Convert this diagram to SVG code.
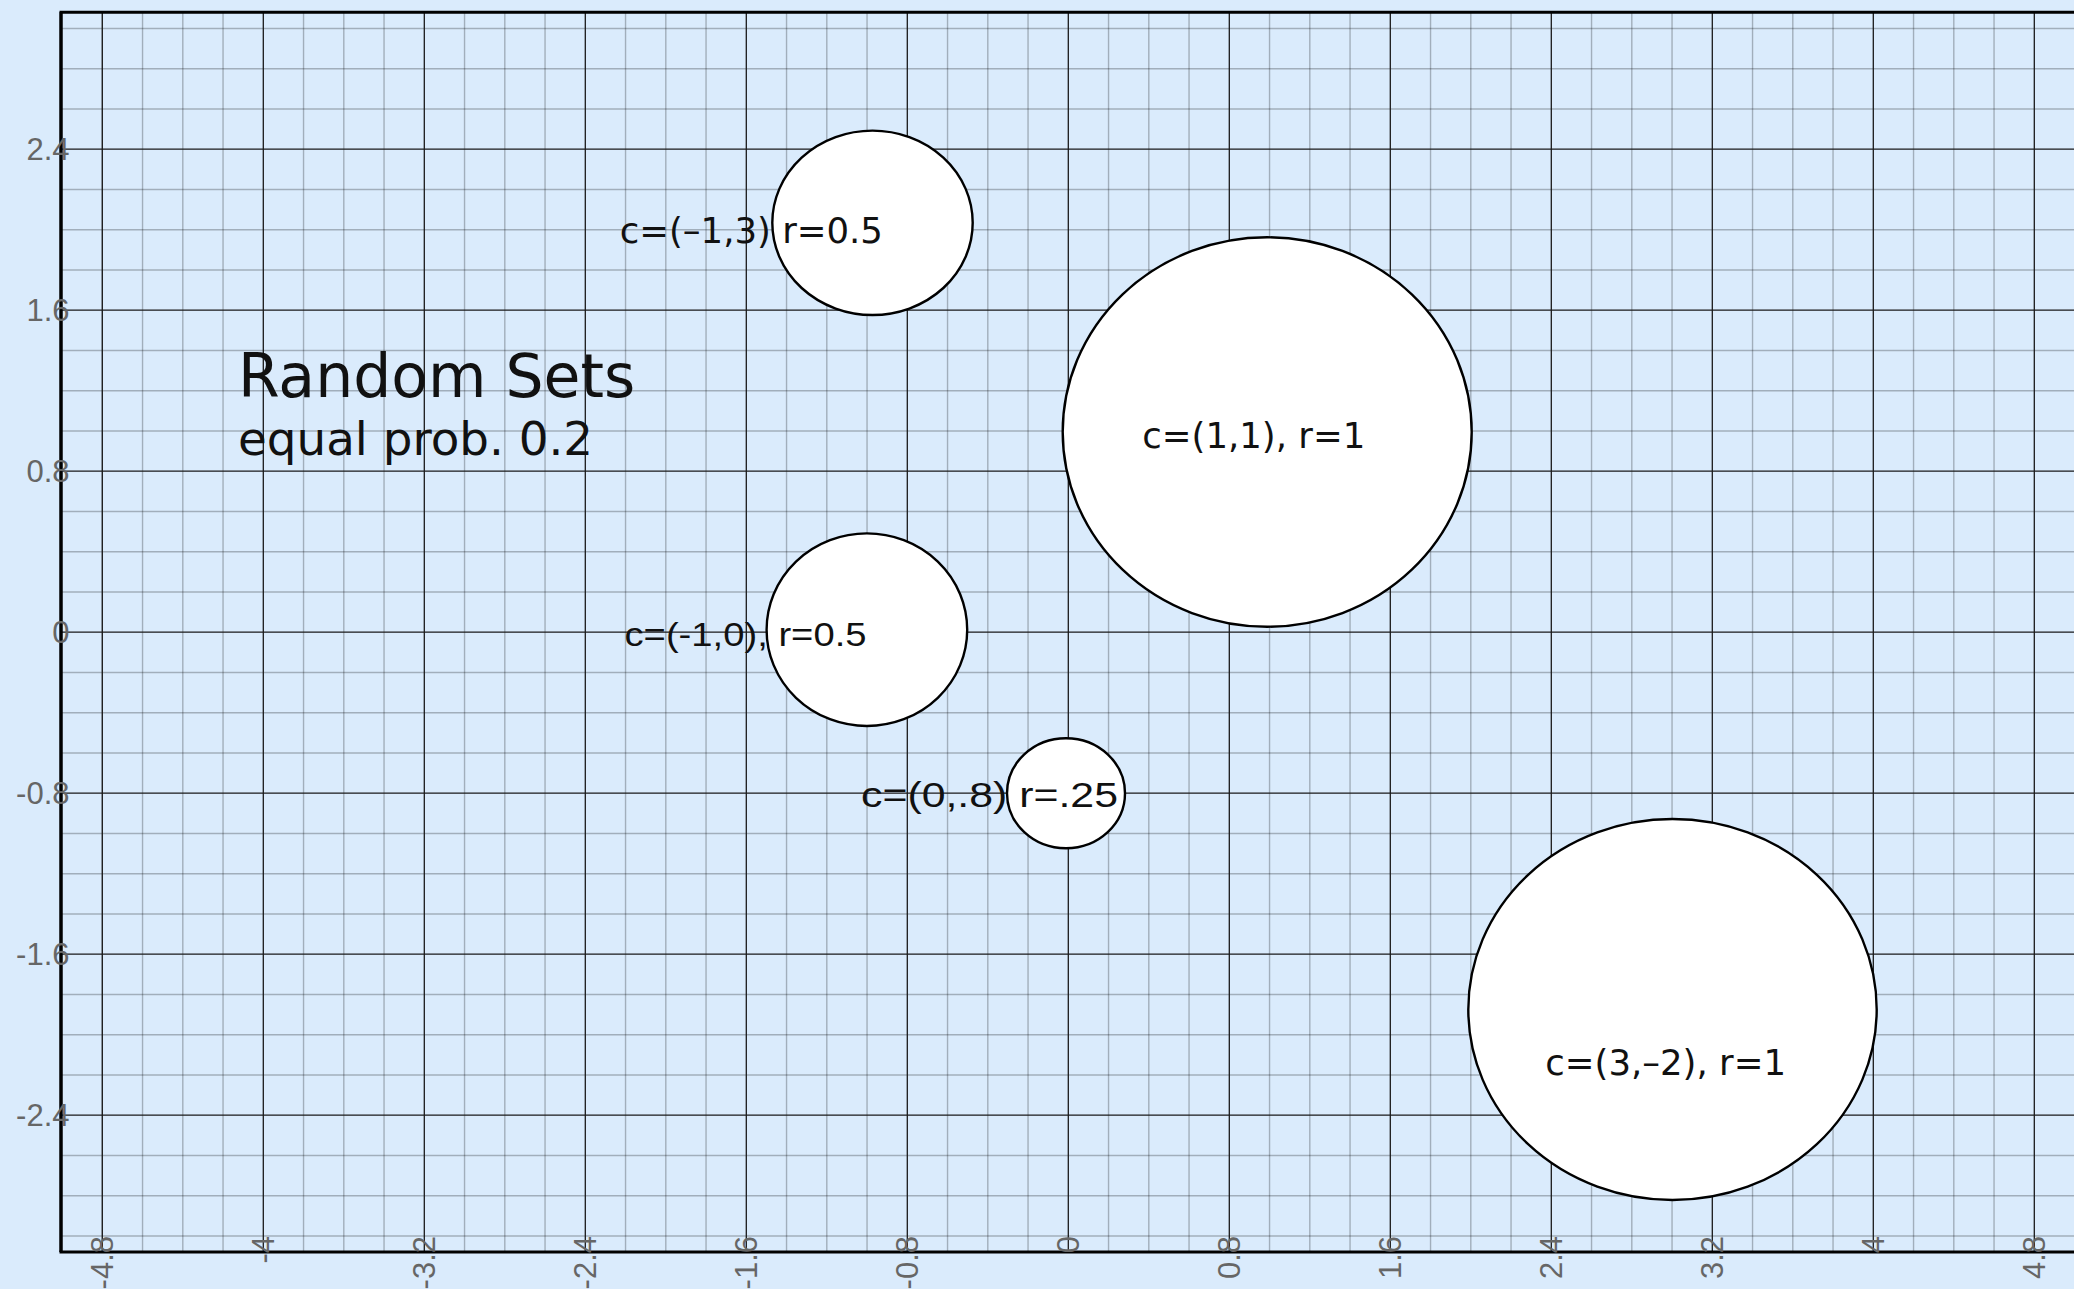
<svg xmlns="http://www.w3.org/2000/svg" width="2074" height="1289" viewBox="0 0 2074 1289">
<style>
.minor{stroke:#000;stroke-opacity:0.26;stroke-width:1.4;fill:none}
.major{stroke:#1a1a1a;stroke-width:1.3;fill:none}
.axis{stroke:#000;stroke-width:3;fill:none}
.tick{font-family:"Liberation Sans",Arial,sans-serif;font-size:31px;fill:#666}
.set{fill:#fff;stroke:#000;stroke-width:2.4}
.lab{font-family:"DejaVu Sans","Noto Sans",sans-serif;font-size:35.5px;fill:#111}
.labh{font-family:"Liberation Sans",Arial,sans-serif;fill:#111}
.title{font-family:"DejaVu Sans","Noto Sans",sans-serif;fill:#111}
</style>
<rect x="0" y="0" width="2074" height="1289" fill="#DAEBFC"/>
<g id="grid">
<path class="minor" d="M102.3 12.3V1251.5M142.55 12.3V1251.5M182.8 12.3V1251.5M223.05 12.3V1251.5M303.55 12.3V1251.5M343.8 12.3V1251.5M384.05 12.3V1251.5M464.55 12.3V1251.5M504.8 12.3V1251.5M545.05 12.3V1251.5M625.55 12.3V1251.5M665.8 12.3V1251.5M706.05 12.3V1251.5M786.55 12.3V1251.5M826.8 12.3V1251.5M867.05 12.3V1251.5M947.55 12.3V1251.5M987.8 12.3V1251.5M1028.05 12.3V1251.5M1108.55 12.3V1251.5M1148.8 12.3V1251.5M1189.05 12.3V1251.5M1269.55 12.3V1251.5M1309.8 12.3V1251.5M1350.05 12.3V1251.5M1430.55 12.3V1251.5M1470.8 12.3V1251.5M1511.05 12.3V1251.5M1591.55 12.3V1251.5M1631.8 12.3V1251.5M1672.05 12.3V1251.5M1752.55 12.3V1251.5M1792.8 12.3V1251.5M1833.05 12.3V1251.5M1913.55 12.3V1251.5M1953.8 12.3V1251.5M1994.05 12.3V1251.5"/>
<path class="minor" d="M61 28.45H2074M61 68.7H2074M61 108.95H2074M61 189.45H2074M61 229.7H2074M61 269.95H2074M61 350.45H2074M61 390.7H2074M61 430.95H2074M61 511.45H2074M61 551.7H2074M61 591.95H2074M61 672.45H2074M61 712.7H2074M61 752.95H2074M61 833.45H2074M61 873.7H2074M61 913.95H2074M61 994.45H2074M61 1034.7H2074M61 1074.95H2074M61 1155.45H2074M61 1195.7H2074M61 1235.95H2074"/>
<path class="major" d="M102.3 12.3V1251.5M263.3 12.3V1251.5M424.3 12.3V1251.5M585.3 12.3V1251.5M746.3 12.3V1251.5M907.3 12.3V1251.5M1068.3 12.3V1251.5M1229.3 12.3V1251.5M1390.3 12.3V1251.5M1551.3 12.3V1251.5M1712.3 12.3V1251.5M1873.3 12.3V1251.5M2034.3 12.3V1251.5"/>
<path class="major" d="M61 149.2H2074M61 310.2H2074M61 471.2H2074M61 632.2H2074M61 793.2H2074M61 954.2H2074M61 1115.2H2074"/>
</g>
<g id="axes">
<path class="axis" d="M61 1252V12.3H2074" stroke-width="2.6"/>
<path class="axis" d="M59.5 1252H2074" stroke-width="2.8"/>
<path class="axis" d="M61 12V1252" stroke-width="3"/>
</g>
<g id="y-ticks" class="tick" text-anchor="end">
<text x="69.5" y="160.2">2.4</text>
<text x="69.5" y="321.2">1.6</text>
<text x="69.5" y="482.2">0.8</text>
<text x="69.5" y="643.2">0</text>
<text x="69.5" y="804.2">-0.8</text>
<text x="69.5" y="965.2">-1.6</text>
<text x="69.5" y="1126.2">-2.4</text>
</g>
<g id="x-ticks" class="tick" text-anchor="end">
<text transform="translate(113.3,1236) rotate(-90)">-4.8</text>
<text transform="translate(274.3,1236) rotate(-90)">-4</text>
<text transform="translate(435.3,1236) rotate(-90)">-3.2</text>
<text transform="translate(596.3,1236) rotate(-90)">-2.4</text>
<text transform="translate(757.3,1236) rotate(-90)">-1.6</text>
<text transform="translate(918.3,1236) rotate(-90)">-0.8</text>
<text transform="translate(1079.3,1236) rotate(-90)">0</text>
<text transform="translate(1240.3,1236) rotate(-90)">0.8</text>
<text transform="translate(1401.3,1236) rotate(-90)">1.6</text>
<text transform="translate(1562.3,1236) rotate(-90)">2.4</text>
<text transform="translate(1723.3,1236) rotate(-90)">3.2</text>
<text transform="translate(1884.3,1236) rotate(-90)">4</text>
<text transform="translate(2045.3,1236) rotate(-90)">4.8</text>
</g>
<g id="title" class="title">
<text x="238" y="397.3" font-size="60">Random Sets</text>
<text x="238" y="454.5" font-size="46.8">equal prob. 0.2</text>
</g>
<g id="set-m1-3">
<ellipse class="set" cx="872.5" cy="222.8" rx="100.2" ry="92.2"/>
<text class="lab" x="619.7" y="242.7">c=(–1,3) r=0.5</text>
</g>
<g id="set-1-1">
<ellipse class="set" cx="1267.2" cy="432" rx="204.5" ry="194.7"/>
<text class="lab" x="1142.3" y="448.3">c=(1,1), r=1</text>
</g>
<g id="set-m1-0">
<ellipse class="set" cx="866.9" cy="629.7" rx="100.3" ry="96.3"/>
<text class="labh" x="624.5" y="645.7" font-size="34" textLength="242" lengthAdjust="spacingAndGlyphs">c=(-1,0), r=0.5</text>
</g>
<g id="set-0-m08">
<ellipse class="set" cx="1066" cy="793.3" rx="59" ry="55"/>
<text class="labh" x="861" y="806.5" font-size="35" textLength="257" lengthAdjust="spacingAndGlyphs">c=(0,.8) r=.25</text>
</g>
<g id="set-3-m2">
<ellipse class="set" cx="1672.5" cy="1009.5" rx="204.2" ry="190.5"/>
<text class="lab" x="1545.3" y="1075">c=(3,–2), r=1</text>
</g>
<g id="connectors"/>
</svg>
